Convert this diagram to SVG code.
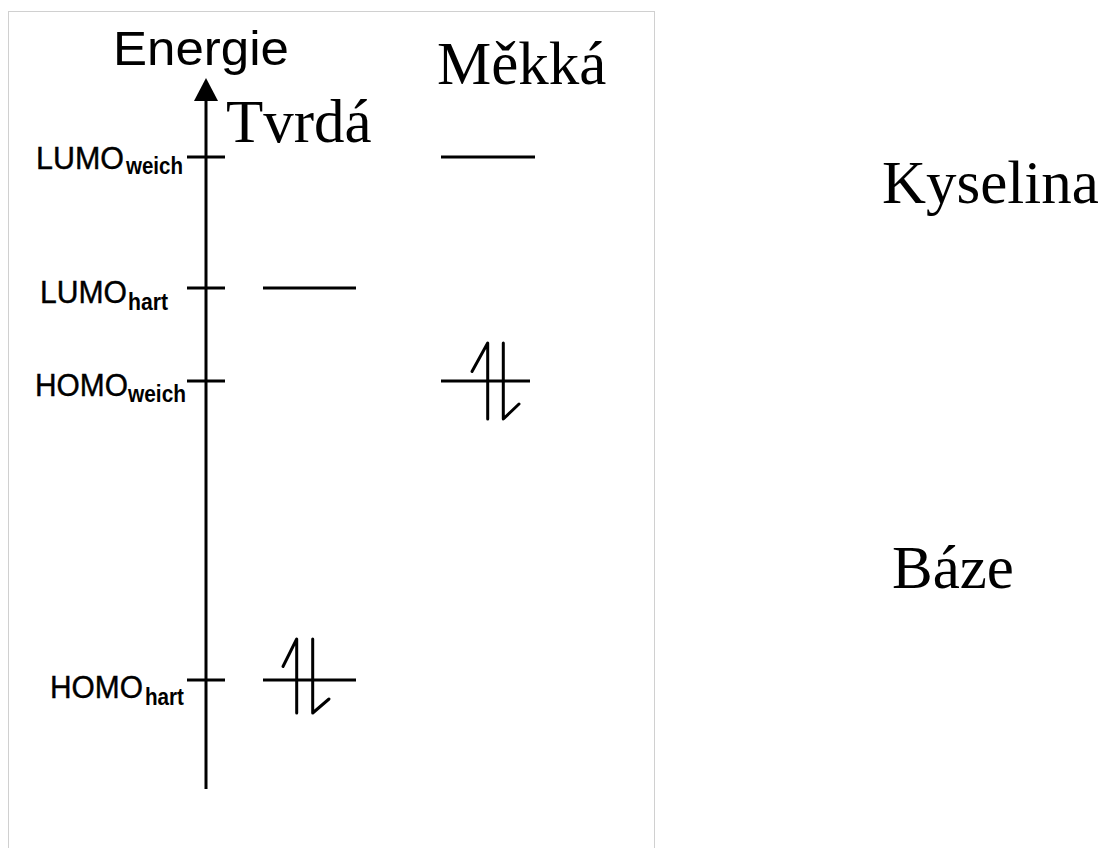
<svg xmlns="http://www.w3.org/2000/svg" width="1108" height="848" viewBox="0 0 1108 848">
<style>
.ln{stroke:#000;stroke-width:3;fill:none}
.el{stroke:#000;stroke-width:3;fill:none;stroke-linejoin:round;stroke-linecap:round}
.lab{font-family:"Liberation Sans",Arial,sans-serif;font-size:31px;fill:#000;stroke:#000;stroke-width:0.4}
.sub{font-family:"Liberation Sans",Arial,sans-serif;font-size:23px;font-weight:bold;fill:#000}
.big{font-family:"Liberation Serif","Times New Roman",serif;font-size:61px;fill:#000}
</style>
<rect width="1108" height="848" fill="#fff"/>
<rect x="8.5" y="11.5" width="646" height="860" fill="none" stroke="#d0d0d0" stroke-width="1"/>
<g id="axis">
<line class="ln" x1="206" y1="98" x2="206" y2="789"/>
<polygon points="206,78 194,101 218,101" fill="#000"/>
<text x="113" y="65" font-family="Liberation Sans, Arial, sans-serif" font-size="48" textLength="176" lengthAdjust="spacingAndGlyphs" fill="#000">Energie</text>
</g>
<g id="ticks">
<line class="ln" x1="187" y1="157" x2="225" y2="157"/>
<line class="ln" x1="187" y1="288" x2="225" y2="288"/>
<line class="ln" x1="187" y1="381" x2="225" y2="381"/>
<line class="ln" x1="187" y1="680" x2="225" y2="680"/>
</g>
<g id="label-lumo-weich"><text class="lab" x="36" y="169" textLength="88" lengthAdjust="spacingAndGlyphs">LUMO</text><text class="sub" x="126" y="174" textLength="57" lengthAdjust="spacingAndGlyphs">weich</text></g>
<g id="label-lumo-hart"><text class="lab" x="40" y="303" textLength="87" lengthAdjust="spacingAndGlyphs">LUMO</text><text class="sub" x="128" y="310" textLength="40" lengthAdjust="spacingAndGlyphs">hart</text></g>
<g id="label-homo-weich"><text class="lab" x="35" y="396" textLength="93" lengthAdjust="spacingAndGlyphs">HOMO</text><text class="sub" x="128" y="402" textLength="58" lengthAdjust="spacingAndGlyphs">weich</text></g>
<g id="label-homo-hart"><text class="lab" x="50" y="698" textLength="93" lengthAdjust="spacingAndGlyphs">HOMO</text><text class="sub" x="145" y="705" textLength="39" lengthAdjust="spacingAndGlyphs">hart</text></g>
<g id="header-tvrda"><text class="big" x="226" y="142">Tvrdá</text></g>
<g id="header-mekka"><text class="big" x="437" y="84">Měkká</text></g>
<g id="kyselina"><text class="big" x="882" y="203">Kyselina</text></g>
<g id="baze"><text class="big" x="892" y="588">Báze</text></g>
<g id="lumo-weich-level"><line class="ln" x1="441" y1="157" x2="535" y2="157"/></g>
<g id="lumo-hart-level"><line class="ln" x1="263" y1="288" x2="356" y2="288" stroke-width="2.5"/></g>
<g id="homo-weich-level">
<line class="ln" x1="441" y1="381" x2="530" y2="381"/>
<polyline class="el" points="472,371.5 487.7,343 487.7,419"/>
<polyline class="el" points="503.3,343 503.3,419 519,404"/>
</g>
<g id="homo-hart-level">
<line class="ln" x1="263" y1="680" x2="356" y2="680"/>
<polyline class="el" points="283,666.5 296.7,639 296.7,713"/>
<polyline class="el" points="312.7,639 312.7,713 329,699"/>
</g>
</svg>
